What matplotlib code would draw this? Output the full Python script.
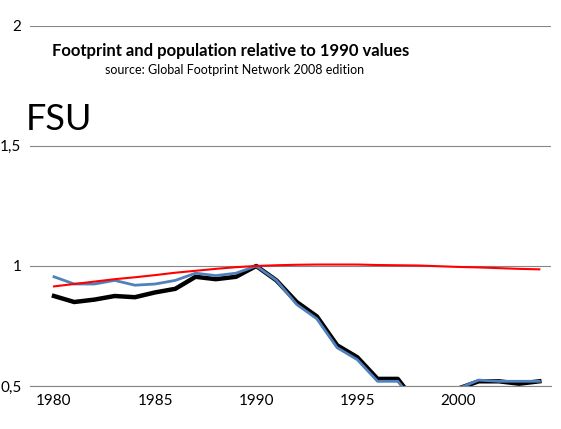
import matplotlib
matplotlib.use("Agg")
import matplotlib.pyplot as plt

years = list(range(1980, 2005))
footprint_total = [0.875,0.85,0.86,0.875,0.87,0.89,0.905,0.955,0.945,0.955,1.0,0.94,0.85,0.79,0.67,0.62,0.53,0.53,0.42,0.40,0.49,0.52,0.52,0.51,0.52]
footprint_pc = [0.955,0.925,0.925,0.94,0.92,0.925,0.94,0.97,0.96,0.97,1.0,0.94,0.84,0.78,0.66,0.61,0.52,0.52,0.42,0.40,0.49,0.525,0.52,0.52,0.52]
population = [0.915,0.925,0.935,0.945,0.953,0.962,0.972,0.98,0.988,0.995,1.0,1.003,1.005,1.006,1.006,1.006,1.004,1.003,1.002,0.999,0.996,0.994,0.991,0.988,0.986]

plt.rcParams['font.family'] = ['Lato', 'DejaVu Sans']
fig = plt.figure(figsize=(5.61, 4.29), dpi=100)
ax = fig.add_axes([0.053, 0.10, 0.93, 0.84])
ax.plot(years, footprint_total, color='black', lw=3.2, zorder=2)
ax.plot(years, footprint_pc, color='#4f81bd', lw=2, zorder=3)
ax.plot(years, population, color='#ff0000', lw=1.5, zorder=4)
ax.set_xlim(1978.8, 2004.6)
ax.set_ylim(0.5, 2)
ax.set_yticks([0.5, 1, 1.5, 2])
ax.set_yticklabels(['0,5', '1', '1,5', '2'])
ax.set_xticks([1980, 1985, 1990, 1995, 2000])
ax.yaxis.grid(True, color='#868686', lw=0.8)
ax.set_axisbelow(True)
for s in ['top', 'right', 'left']:
    ax.spines[s].set_visible(False)
ax.spines['bottom'].set_color('#868686')
ax.tick_params(length=0, labelsize=11, pad=6)
ax.text(0.043, 0.915, 'Footprint and population relative to 1990 values', transform=ax.transAxes, fontsize=12, fontweight='bold')
ax.text(0.145, 0.865, 'source: Global Footprint Network 2008 edition', transform=ax.transAxes, fontsize=9)
ax.text(-0.008, 0.71, 'FSU', transform=ax.transAxes, fontsize=26)
fig.savefig('out.png', dpi=100)
